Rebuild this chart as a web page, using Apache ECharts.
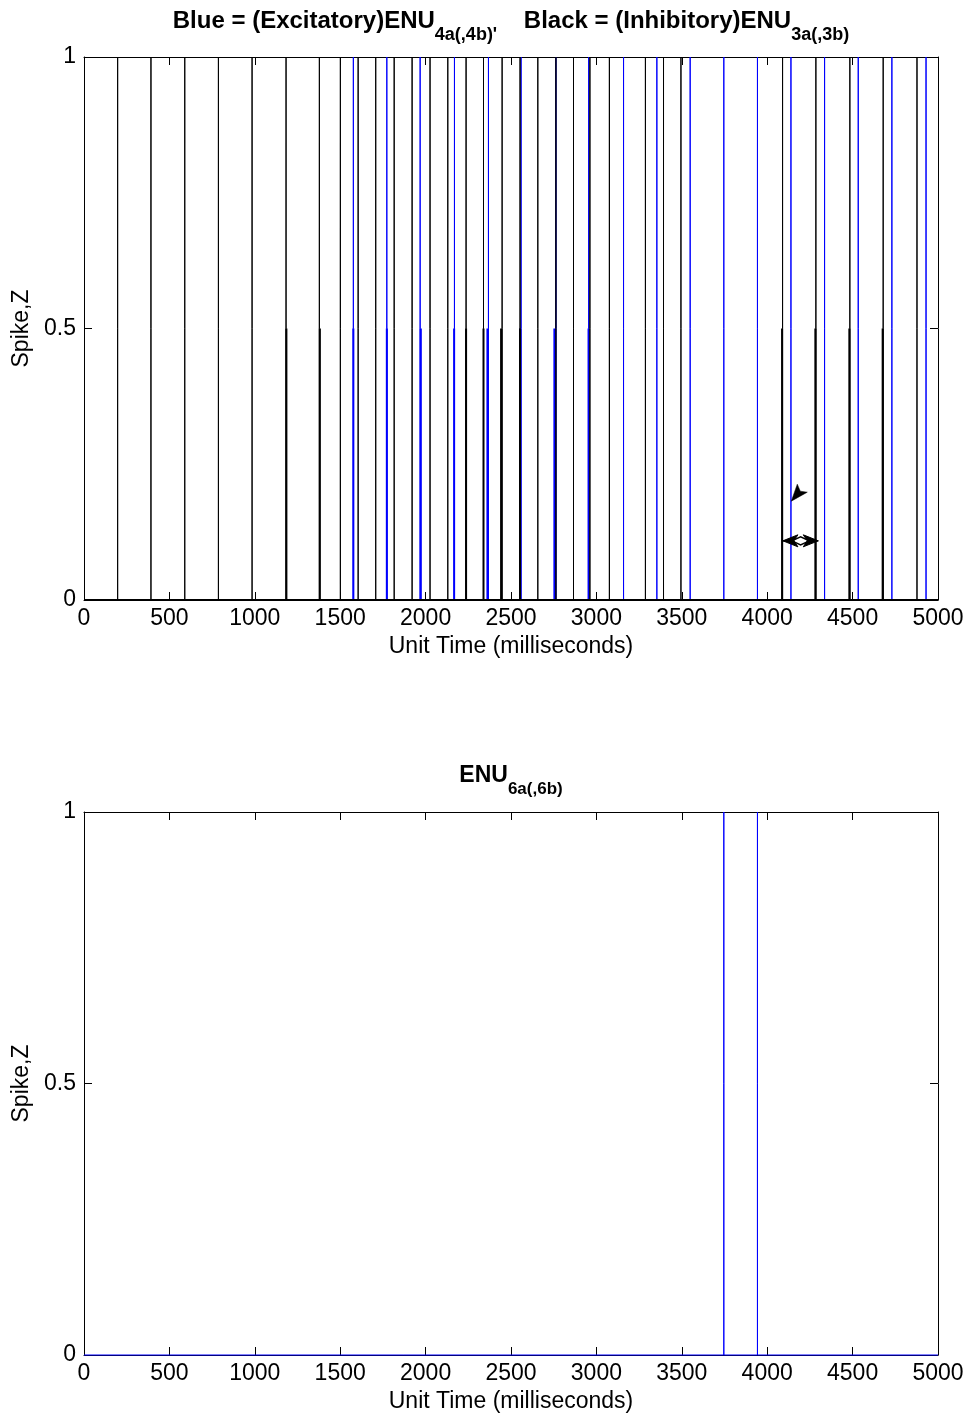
<!DOCTYPE html>
<html><head><meta charset="utf-8">
<script src="https://cdn.jsdelivr.net/npm/echarts@6/dist/echarts.min.js"></script>
<style>html,body{margin:0;padding:0;background:#fff}#c{width:970px;height:1414px}</style>
</head><body><div id="c"></div>
<script>
// ---- data (spike times in ms) ----
const topBlueFull  = [1577, 1773, 1968, 2169, 2368, 2559, 2763, 2955, 3159, 3354, 3549, 3746, 3943, 4139, 4336, 4533, 4730, 4930];
const topBlueHalf  = [1577, 1773, 1972, 2167, 2362, 2553, 2754, 2954];
const topBlackFull = [197, 392, 590, 787, 984, 1183, 1378, 1501, 1605, 1708, 1816, 1921, 2026, 2130, 2237, 2339, 2448, 2553, 2657, 2763, 2866, 2962, 3076, 3287, 3393, 3495, 4090, 4285, 4484, 4679, 4877];
const topBlackHalf = [1185, 1381, 2237, 2339, 2442, 2553, 4087, 4282, 4481, 4676];
const bottomBlueFull = [3746, 3943];
const fullHeight = 1, halfHeight = 0.5;
const xTicks = [0, 500, 1000, 1500, 2000, 2500, 3000, 3500, 4000, 4500, 5000];
const yTicks = [0, 0.5, 1];
const arrowHeadTip = [4141, 0.182];                    // single arrowhead annotation (tip)
const doubleArrowEnds = [4092, 4299, 0.109];           // x-left, x-right, y

const FONT = 'Liberation Sans, Arial, sans-serif';
const tMin = xTicks[0], tMax = xTicks[xTicks.length - 1];

function spikePath(times, h) {
  const pts = [[tMin, 0]];
  times.slice().sort((a, b) => a - b).forEach(t => { pts.push([t, 0], [t, h], [t, 0]); });
  pts.push([tMax, 0]);
  return pts;
}

function xAxes(gi) {
  return [
    { gridIndex: gi, type: 'value', position: 'bottom', min: tMin, max: tMax, interval: 500,
      axisLine: { onZero: false, lineStyle: { color: '#000', width: 1 } },
      axisTick: { inside: true, length: 8, lineStyle: { color: '#000' } },
      axisLabel: { color: '#000', fontSize: 23, fontFamily: FONT, margin: 7, formatter: v => String(v) },
      splitLine: { show: false },
      name: 'Unit Time (milliseconds)', nameLocation: 'middle', nameGap: 35,
      nameTextStyle: { color: '#000', fontSize: 23, fontFamily: FONT } },
    { gridIndex: gi, type: 'value', position: 'top', min: tMin, max: tMax, interval: 500,
      axisLine: { onZero: false, lineStyle: { color: '#000', width: 1 } },
      axisTick: { inside: true, length: 8, lineStyle: { color: '#000' } },
      axisLabel: { show: false }, splitLine: { show: false } }
  ];
}
function yAxes(gi) {
  return [
    { gridIndex: gi, type: 'value', position: 'left', min: yTicks[0], max: yTicks[yTicks.length - 1], interval: 0.5,
      axisLine: { show: true, onZero: false, lineStyle: { color: '#000', width: 1 } },
      axisTick: { show: true, inside: true, length: 8, lineStyle: { color: '#000' } },
      axisLabel: { color: '#000', fontSize: 23, fontFamily: FONT, margin: 8 },
      splitLine: { show: false },
      name: 'Spike,Z', nameLocation: 'middle', nameGap: 50, nameRotate: 90,
      nameTextStyle: { color: '#000', fontSize: 23, fontFamily: FONT } },
    { gridIndex: gi, type: 'value', position: 'right', min: yTicks[0], max: yTicks[yTicks.length - 1], interval: 0.5,
      axisLine: { show: true, onZero: false, lineStyle: { color: '#000', width: 1 } },
      axisTick: { show: true, inside: true, length: 8, lineStyle: { color: '#000' } },
      axisLabel: { show: false }, splitLine: { show: false } }
  ];
}

function lineSeries(data, color, width, xi, yi) {
  return {
    type: 'line', data: data, xAxisIndex: xi, yAxisIndex: yi,
    showSymbol: false, symbol: 'none', clip: false, silent: true, animation: false,
    lineStyle: { color: color, width: width }, itemStyle: { color: color }
  };
}

const titleRich = {
  m: { fontSize: 24, fontWeight: 'bold', fontFamily: FONT, color: '#000', verticalAlign: 'top', lineHeight: 24 },
  s: { fontSize: 18, fontWeight: 'bold', fontFamily: FONT, color: '#000', verticalAlign: 'bottom', lineHeight: 35 }
};
const titleRich2 = {
  m: { fontSize: 23, fontWeight: 'bold', fontFamily: FONT, color: '#000', verticalAlign: 'top', lineHeight: 23 },
  s: { fontSize: 17, fontWeight: 'bold', fontFamily: FONT, color: '#000', verticalAlign: 'bottom', lineHeight: 34 }
};

// annotation: single barbed arrowhead pointing down-left
const arrowSeries = {
  type: 'custom', xAxisIndex: 0, yAxisIndex: 0, silent: true, clip: false, z: 5,
  data: [arrowHeadTip],
  renderItem: function (params, api) {
    const p = api.coord([api.value(0), api.value(1)]);
    const x = p[0], y = p[1];
    return { type: 'polygon',
      shape: { points: [[x, y], [x + 6, y - 17], [x + 9, y - 10], [x + 16, y - 9]] },
      style: { fill: '#000', stroke: '#000', lineWidth: 0.5 } };
  }
};
// annotation: double-headed horizontal arrow
const doubleArrowSeries = {
  type: 'custom', xAxisIndex: 0, yAxisIndex: 0, silent: true, clip: false, z: 5,
  data: [doubleArrowEnds],
  renderItem: function (params, api) {
    const a = api.coord([api.value(0), api.value(2)]);
    const b = api.coord([api.value(1), api.value(2)]);
    const L = a[0], R = b[0], y = a[1], M = (L + R) / 2;
    return { type: 'group', children: [
      { type: 'polygon', shape: { points: [[L + 9, y], [M, y - 4], [R - 9, y], [M, y + 4]] },
        style: { fill: '#fff', stroke: '#000', lineWidth: 1.5 } },
      { type: 'polygon', shape: { points: [[L, y], [L + 15, y - 6], [L + 11, y], [L + 15, y + 6]] },
        style: { fill: '#000', stroke: '#000', lineWidth: 1 } },
      { type: 'polygon', shape: { points: [[R, y], [R - 15, y - 6], [R - 11, y], [R - 15, y + 6]] },
        style: { fill: '#000', stroke: '#000', lineWidth: 1 } },
      { type: 'line', shape: { x1: L, y1: y, x2: L + 10, y2: y }, style: { stroke: '#000', lineWidth: 1.5 } },
      { type: 'line', shape: { x1: R - 10, y1: y, x2: R, y2: y }, style: { stroke: '#000', lineWidth: 1.5 } }
    ] };
  }
};

const option = {
  backgroundColor: '#fff',
  animation: false,
  grid: [
    { left: 84, right: 32, top: 57, height: 543 },
    { left: 84, right: 32, top: 812, height: 543 }
  ],
  xAxis: xAxes(0).concat(xAxes(1)),
  yAxis: yAxes(0).concat(yAxes(1)),
  graphic: [
    { type: 'text', x: 511, y: 9, silent: true,
      style: { text: "{m|Blue = (Excitatory)ENU}{s|4a(,4b)'}{m|    Black = (Inhibitory)ENU}{s|3a(,3b)}",
               rich: titleRich, align: 'center', verticalAlign: 'top' } },
    { type: 'text', x: 511, y: 764, silent: true,
      style: { text: "{m|ENU}{s|6a(,6b)}", rich: titleRich2, align: 'center', verticalAlign: 'top' } }
  ],
  series: [
    lineSeries(spikePath(topBlueFull, fullHeight), '#0000ff', 1, 0, 0),
    lineSeries(spikePath(topBlueHalf, halfHeight), '#0000ff', 2, 0, 0),
    lineSeries(spikePath(topBlackFull, fullHeight), '#000000', 1, 0, 0),
    lineSeries(spikePath(topBlackHalf, halfHeight), '#000000', 2, 0, 0),
    arrowSeries,
    doubleArrowSeries,
    lineSeries(spikePath(bottomBlueFull, fullHeight), '#0000ff', 1, 2, 2)
  ]
};
const chart = echarts.init(document.getElementById('c'), null, { renderer: 'canvas' });
chart.setOption(option);
</script></body></html>
